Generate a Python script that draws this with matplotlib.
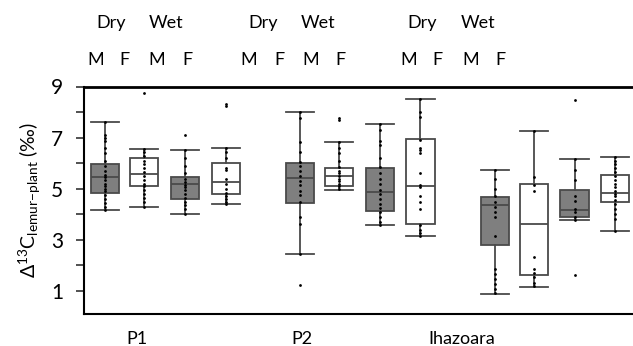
import matplotlib
matplotlib.use("Agg")
import matplotlib.pyplot as plt
from matplotlib.ticker import FixedLocator
import matplotlib.transforms as mtransforms

plt.rcParams['font.family'] = ['Lato', 'DejaVu Sans']
plt.rcParams['mathtext.fontset'] = 'custom'
plt.rcParams['mathtext.rm'] = 'Lato'
plt.rcParams['mathtext.it'] = 'Lato:italic'

# ---------------- data ----------------
sites = ["P1", "P2", "Ihazoara"]
groups = ["Dry M", "Dry F", "Wet M", "Wet F"]

whis_lo = [4.17, 4.30, 4.02, 4.41,  2.43, 4.96, 3.59, 3.16,  0.90, 1.16, 3.79, 3.35]
q1      = [4.84, 5.09, 4.60, 4.80,  4.43, 5.09, 4.13, 3.61,  2.80, 1.62, 3.91, 4.50]
median  = [5.45, 5.59, 5.17, 5.26,  5.42, 5.51, 4.89, 5.12,  4.37, 3.61, 4.15, 4.84]
q3      = [5.95, 6.22, 5.47, 6.00,  6.00, 5.81, 5.81, 6.96,  4.66, 5.17, 4.97, 5.55]
whis_hi = [7.62, 6.56, 6.50, 6.61,  8.01, 6.81, 7.55, 8.51,  5.72, 7.26, 6.16, 6.26]

points = [
    [7.62, 7.1, 7.0, 6.85, 6.6, 6.4, 6.1, 5.9, 5.7, 5.55, 5.45, 5.35, 5.2, 5.1, 5.0, 4.9, 4.75, 4.6, 4.45, 4.3, 4.17],
    [8.73, 6.56, 6.45, 6.3, 6.1, 5.95, 5.8, 5.65, 5.5, 5.35, 5.2, 5.1, 4.95, 4.8, 4.65, 4.5, 4.3],
    [7.09, 6.5, 6.2, 5.9, 5.6, 5.4, 5.25, 5.15, 5.05, 4.95, 4.8, 4.65, 4.5, 4.35, 4.2, 4.02],
    [8.33, 8.25, 6.61, 6.45, 6.2, 5.8, 5.75, 5.4, 5.2, 5.0, 4.85, 4.7, 4.6, 4.5, 4.41],
    [8.01, 7.75, 6.83, 6.44, 6.05, 5.9, 5.7, 5.5, 5.3, 5.13, 4.93, 4.74, 4.47, 3.88, 3.62, 2.43, 1.22],
    [7.77, 7.68, 6.81, 6.6, 6.4, 6.1, 5.85, 5.7, 5.6, 5.5, 5.4, 5.3, 5.2, 5.1, 4.98],
    [7.55, 7.3, 6.85, 6.7, 6.2, 5.85, 5.6, 5.4, 5.2, 4.95, 4.8, 4.6, 4.4, 4.25, 4.1, 3.9, 3.7, 3.59],
    [8.51, 8.0, 7.8, 6.9, 6.6, 6.5, 6.4, 5.6, 5.15, 5.05, 4.7, 4.5, 4.2, 3.6, 3.4, 3.25, 3.16],
    [5.72, 5.39, 5.0, 4.73, 4.47, 4.28, 4.08, 3.88, 3.16, 1.85, 1.66, 1.46, 1.26, 1.07, 0.92],
    [7.26, 5.46, 5.13, 4.93, 2.34, 1.85, 1.72, 1.53, 1.33, 1.19],
    [8.48, 6.16, 5.72, 5.33, 4.73, 4.54, 4.21, 4.08, 3.88, 3.79, 1.63],
    [6.26, 6.1, 5.95, 5.8, 5.65, 5.5, 5.35, 5.2, 5.05, 4.9, 4.8, 4.7, 4.55, 4.4, 4.2, 4.0, 3.8, 3.35],
]

season_labels = ["Dry", "Wet"]
sex_labels = ["M", "F", "M", "F"]
yticks_major = [1, 3, 5, 7, 9]
yticks_minor = [2, 4, 6, 8]

# ---------------- layout ----------------
W, H = 633, 346
fig = plt.figure(figsize=(W / 100, H / 100), dpi=100)
ax = fig.add_axes([84 / W, 32 / H, 1 - 84 / W, (314 - 86.5) / H])

offsets = [-1.55, -0.55, 0.5, 1.55]
group_centers = [0, 5, 10]
positions = [gc + o for gc in group_centers for o in offsets]
fills = ["#7f7f7f", "white", "#7f7f7f", "white"] * 3

stats = []
for i in range(len(positions)):
    stats.append(dict(whislo=whis_lo[i], q1=q1[i], med=median[i], q3=q3[i],
                      whishi=whis_hi[i], fliers=[]))

edge = "#4a4a4a"
bp = ax.bxp(stats, positions=positions, widths=0.72, patch_artist=True,
            showfliers=False, capwidths=0.72,
            boxprops=dict(edgecolor=edge, linewidth=1.3),
            medianprops=dict(color=edge, linewidth=1.3),
            whiskerprops=dict(color=edge, linewidth=1.3),
            capprops=dict(color=edge, linewidth=1.3))
for patch, fc in zip(bp['boxes'], fills):
    patch.set_facecolor(fc)

for x, pts in zip(positions, points):
    ax.scatter([x] * len(pts), pts, s=4, color="black", zorder=5, linewidths=0)

ax.set_xlim(-2.08, 12.0)
ax.set_ylim(0.1, 9)

ax.yaxis.set_major_locator(FixedLocator(yticks_major))
ax.yaxis.set_minor_locator(FixedLocator(yticks_minor))
ax.tick_params(axis='y', which='both', direction='out', length=6, width=1.2,
               labelsize=15, pad=9, color='#333333')
ax.tick_params(axis='y', which='minor', length=6)

# site labels on bottom
site_x = [-0.72, 3.51, 7.6]
ax.set_xticks(site_x)
ax.set_xticklabels(sites, fontsize=13)
ax.tick_params(axis='x', length=0, pad=12)

for s in ['top', 'left', 'bottom']:
    ax.spines[s].set_color('black')
ax.spines['top'].set_linewidth(2.0)
ax.spines['left'].set_linewidth(1.5)
ax.spines['bottom'].set_linewidth(1.5)
ax.spines['right'].set_visible(False)

ax.set_ylabel(r'$\Delta^{13}$C$_{\mathrm{lemur\!-\!plant}}$ (‰)', fontsize=14, labelpad=6)

# top labels (pixel x positions converted to figure fraction)
season_px = [(111, 166), (263, 318), (422, 478)]
sex_px = [(96, 124, 157, 187), (249, 279, 311, 340), (409, 437, 471, 500)]
for (dx, wx), sxs in zip(season_px, sex_px):
    fig.text(dx / W, 1 - 23 / H, season_labels[0], ha='center', va='center', fontsize=13)
    fig.text(wx / W, 1 - 23 / H, season_labels[1], ha='center', va='center', fontsize=13)
    for px, lab in zip(sxs, sex_labels):
        fig.text(px / W, 1 - 60 / H, lab, ha='center', va='center', fontsize=13)

fig.savefig("out.png", dpi=100)
